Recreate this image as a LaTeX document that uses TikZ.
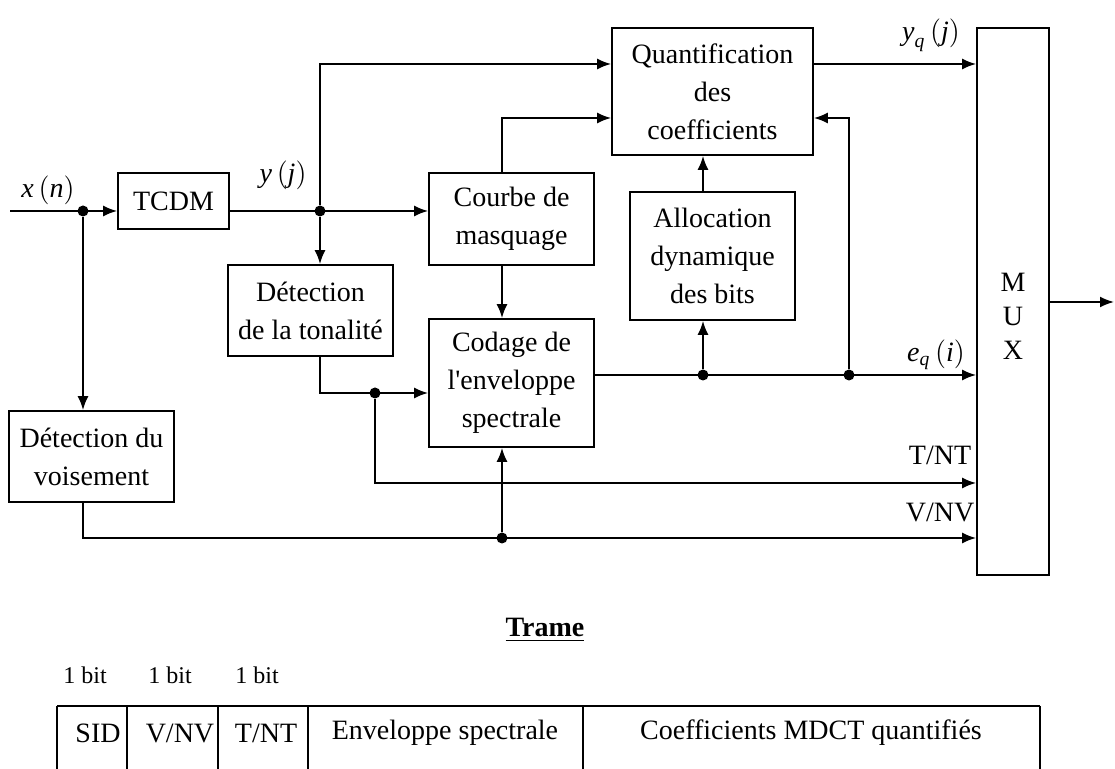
\documentclass[tikz,border=0pt]{standalone}
\usepackage{amsmath}
\usepackage{fontspec}
\setmainfont{Liberation Serif}
\usetikzlibrary{arrows.meta}

\begin{document}
\begin{tikzpicture}[x=0.5pt,y=-0.5pt,line width=0.9pt,>={Latex[length=7pt,width=5.5pt]},
    font=\fontsize{14}{19}\selectfont,
    blk/.style={draw,inner sep=0pt,align=center},
    jdot/.style={circle,fill,inner sep=0pt,minimum size=5.5pt}]
  \useasboundingbox (0,0) rectangle (1115,769);
  \node[blk,minimum width=55.5pt,minimum height=28pt] (tcdm) at (173.5,201) {TCDM};
  \node[blk,minimum width=100.5pt,minimum height=63.5pt] (quant) at (712.5,91.5) {Quantification\\des\\coefficients};
  \node[blk,minimum width=82.5pt,minimum height=46pt] (courbe) at (511.5,219) {Courbe de\\masquage};
  \node[blk,minimum width=82.5pt,minimum height=45.5pt] (tonal) at (310.5,310.5) {Détection\\de la tonalité};
  \node[blk,minimum width=82.5pt,minimum height=64pt] (codage) at (511.5,383) {Codage de\\l\textquotesingle enveloppe\\spectrale};
  \node[blk,minimum width=82.5pt,minimum height=64pt] (alloc) at (712.5,256) {Allocation\\dynamique\\des bits};
  \node[blk,minimum width=82.5pt,minimum height=45.5pt] (voise) at (91.5,456.5) {Détection du\\voisement};
  \node[blk,minimum width=36pt,minimum height=273.5pt] (mux) at (1013,301.5) {};
  \node[align=center,font=\fontsize{14}{17}\selectfont] (muxlab) at (1013,316) {M\\U\\X};

  \node[jdot] (xdot) at (83,211) {};
  \node[jdot] (ydot) at (320,211) {};
  \node[jdot] (tdot) at (375,393) {};
  \node[jdot] (vdot) at (502,538) {};
  \node[jdot] (edot1) at (703,375) {};
  \node[jdot] (edot2) at (849,375) {};
  \coordinate (xin) at (10,211);
  \coordinate (out) at (1114,302);
  \coordinate (r1) at (0,64);
  \coordinate (r2) at (0,118);
  \coordinate (rt) at (0,483);

  \node (xlab) at (48,190) {$\textit{x}\left(\textit{n}\right)$};
  \node (ylab) at (283,175) {$\textit{y}\left(\textit{j}\right)$};
  \node (yqlab) at (931,35) {$\textit{y}_{\textit{q}}\left(\textit{j}\right)$};
  \node (eqlab) at (936,355) {$\textit{e}_{\textit{q}}\left(\textit{i}\right)$};
  \node (tntlab) at (940,455) {T/NT};
  \node (vnvlab) at (940,512) {V/NV};

  \draw[->] (xin) -- (tcdm.west |- xdot);
  \draw[->] (xdot) -- (xdot |- voise.north);
  \draw[->] (tcdm.east |- ydot) -- (courbe.west |- ydot);
  \draw[->] (ydot) |- (quant.west |- r1);
  \draw[->] (ydot) -- (ydot |- tonal.north);
  \draw[->] (courbe.north -| vdot) |- (quant.west |- r2);
  \draw[->] (courbe.south -| vdot) -- (codage.north -| vdot);
  \draw[->] (tonal.south -| ydot) |- (codage.west |- tdot);
  \draw[->] (tdot) |- (mux.west |- rt);
  \draw[->] (voise.south -| xdot) |- (mux.west |- vdot);
  \draw[->] (vdot) -- (codage.south -| vdot);
  \draw[->] (codage.east |- edot1) -- (mux.west |- edot1);
  \draw[->] (edot1) -- (alloc.south -| edot1);
  \draw[->] (alloc.north -| edot1) -- (quant.south -| edot1);
  \draw[->] (edot2) |- (quant.east |- r2);
  \draw[->] (quant.east |- r1) -- (mux.west |- r1);
  \draw[->] (mux.east |- out) -- (out);

  \node (trame) at (545,630) {\underline{\textbf{Trame}}};
  \node[font=\fontsize{12}{14}\selectfont] (bit1) at (85,675) {1 bit};
  \node[font=\fontsize{12}{14}\selectfont] (bit2) at (170,675) {1 bit};
  \node[font=\fontsize{12}{14}\selectfont] (bit3) at (257,675) {1 bit};
  \draw (57,706) -- (1040,706);
  \foreach \x in {57,127,218,308,583,1040}
    \draw (\x,706) -- (\x,769);
  \node (sid) at (98,733) {SID};
  \node (vnv) at (180,733) {V/NV};
  \node (tnt) at (266,733) {T/NT};
  \node (env) at (445,733) {Enveloppe spectrale};
  \node (coef) at (811,733) {Coefficients MDCT quantifiés};
\end{tikzpicture}
\end{document}
